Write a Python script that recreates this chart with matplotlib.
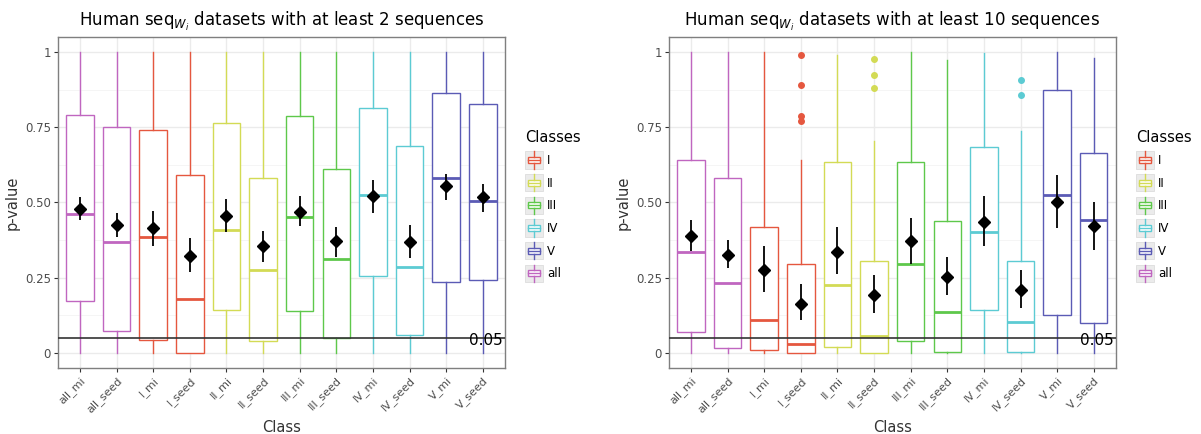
import numpy as np
import matplotlib
matplotlib.use("Agg")
import matplotlib.pyplot as plt
from matplotlib.legend_handler import HandlerBase
from matplotlib.patches import Rectangle
from matplotlib.lines import Line2D

# ---------------- data ----------------
categories = ["all_mi", "all_seed", "I_mi", "I_seed", "II_mi", "II_seed",
              "III_mi", "III_seed", "IV_mi", "IV_seed", "V_mi", "V_seed"]
cat_class = ["all", "all", "I", "I", "II", "II", "III", "III", "IV", "IV", "V", "V"]
classes = ["I", "II", "III", "IV", "V", "all"]
class_colors = {"I": "#E5573F", "II": "#D3DB55", "III": "#5EC84B",
                "IV": "#5CCBD3", "V": "#5B5BB5", "all": "#C066C0"}

# panel 1: at least 2 sequences
q1_a = [0.172, 0.074, 0.043, 0.000, 0.143, 0.039, 0.139, 0.051, 0.255, 0.059, 0.235, 0.243]
q3_a = [0.789, 0.751, 0.741, 0.590, 0.765, 0.580, 0.787, 0.611, 0.815, 0.688, 0.863, 0.826]
med_a = [0.462, 0.368, 0.384, 0.180, 0.410, 0.274, 0.451, 0.313, 0.525, 0.284, 0.581, 0.506]
wlo_a = [0.0] * 12
whi_a = [1.0] * 12
mean_a = [0.479, 0.424, 0.416, 0.323, 0.455, 0.354, 0.469, 0.373, 0.521, 0.370, 0.554, 0.517]
elo_a = [0.443, 0.385, 0.355, 0.270, 0.401, 0.302, 0.421, 0.320, 0.465, 0.315, 0.507, 0.468]
ehi_a = [0.518, 0.465, 0.472, 0.381, 0.510, 0.406, 0.521, 0.419, 0.575, 0.426, 0.594, 0.561]
out_a = [[] for _ in range(12)]

# panel 2: at least 10 sequences
q1_b = [0.069, 0.016, 0.010, 0.000, 0.019, 0.000, 0.039, 0.004, 0.144, 0.004, 0.127, 0.100]
q3_b = [0.640, 0.581, 0.420, 0.294, 0.634, 0.307, 0.635, 0.437, 0.684, 0.304, 0.873, 0.664]
med_b = [0.335, 0.232, 0.108, 0.029, 0.227, 0.055, 0.296, 0.137, 0.401, 0.104, 0.526, 0.442]
wlo_b = [0.0] * 12
whi_b = [1.0, 1.0, 1.0, 0.642, 0.989, 0.704, 1.0, 0.973, 0.998, 0.737, 1.0, 0.981]
mean_b = [0.388, 0.326, 0.276, 0.164, 0.337, 0.194, 0.373, 0.254, 0.435, 0.210, 0.500, 0.421]
elo_b = [0.340, 0.282, 0.202, 0.111, 0.261, 0.132, 0.296, 0.191, 0.357, 0.149, 0.415, 0.341]
ehi_b = [0.443, 0.376, 0.356, 0.229, 0.417, 0.259, 0.449, 0.319, 0.520, 0.277, 0.590, 0.502]
out_b = [[], [], [], [0.991, 0.890, 0.786, 0.771], [], [0.977, 0.925, 0.881],
         [], [], [], [0.906, 0.856], [], []]

threshold = 0.05
titles = [r"Human seq$_{W_i}$ datasets with at least 2 sequences",
          r"Human seq$_{W_i}$ datasets with at least 10 sequences"]


class BoxHandler(HandlerBase):
    # little boxplot glyph on grey key, like ggplot legends
    def create_artists(self, legend, orig_handle, xdescent, ydescent,
                       width, height, fontsize, trans):
        c = orig_handle.get_edgecolor()
        x0, y0 = -xdescent, -ydescent
        bg = Rectangle((x0, y0 - 1), width, height + 2,
                       facecolor="#EBEBEB", edgecolor="#DDDDDD", lw=0.6, transform=trans)
        cx = x0 + width / 2
        box = Rectangle((x0 + 2, y0 + 3), width - 4, height - 6,
                        facecolor="white", edgecolor=c, lw=1.0, transform=trans)
        mid = Line2D([x0 + 2, x0 + width - 2], [y0 + height / 2] * 2,
                     color=c, lw=1.0, transform=trans)
        w1 = Line2D([cx, cx], [y0 - 1, y0 + 3], color=c, lw=1.0, transform=trans)
        w2 = Line2D([cx, cx], [y0 + height - 3, y0 + height + 1],
                    color=c, lw=1.0, transform=trans)
        return [bg, box, mid, w1, w2]


def draw_panel(ax, q1, q3, med, wlo, whi, mean, elo, ehi, outs, title):
    x = np.arange(1, len(categories) + 1)
    ax.set_facecolor("white")
    ax.set_axisbelow(True)
    for i in range(len(categories)):
        s = {"med": med[i], "q1": q1[i], "q3": q3[i],
             "whislo": wlo[i], "whishi": whi[i], "fliers": outs[i]}
        c = class_colors[cat_class[i]]
        ax.bxp([s], positions=[x[i]], widths=0.75, patch_artist=True,
               showcaps=False,
               boxprops=dict(facecolor="white", edgecolor=c, lw=1.0),
               whiskerprops=dict(color=c, lw=1.0),
               medianprops=dict(color=c, lw=2.0),
               flierprops=dict(marker="o", markerfacecolor=c, markeredgecolor=c,
                               markersize=4),
               zorder=2)
    ax.vlines(x, elo, ehi, color="black", lw=1.3, zorder=4)
    ax.plot(x, mean, "D", color="black", markersize=6, zorder=5)
    ax.axhline(threshold, color="#333333", lw=1.2, zorder=3)
    ax.text(12.55, threshold - 0.01, "0.05", ha="right", va="center",
            fontsize=11, color="black", zorder=6)

    ax.set_xlim(0.4, 12.6)
    ax.set_ylim(-0.05, 1.05)
    ax.set_xticks(x)
    ax.set_xticklabels(categories, rotation=45, ha="right", rotation_mode="anchor",
                       fontsize=8, color="#4D4D4D")
    ax.set_yticks([0, 0.25, 0.5, 0.75, 1])
    ax.set_yticklabels(["0", "0.25", "0.50", "0.75", "1"], fontsize=8.5, color="#4D4D4D")
    ax.set_yticks([0.125, 0.375, 0.625, 0.875], minor=True)
    ax.grid(True, which="major", color="#EBEBEB", lw=1.0)
    ax.grid(True, which="minor", axis="y", color="#F4F4F4", lw=0.6)
    ax.tick_params(axis="both", which="major", length=3, color="#333333", pad=2)
    ax.tick_params(axis="y", which="minor", length=0)
    for sp in ax.spines.values():
        sp.set_color("#7F7F7F")
        sp.set_linewidth(1.0)
    ax.set_xlabel("Class", fontsize=10.5, color="#333333", labelpad=4)
    ax.set_ylabel("p-value", fontsize=10.5, color="#333333", labelpad=4)
    ax.set_title(title, fontsize=12, pad=8)

    handles = [Rectangle((0, 0), 1, 1, facecolor="white", edgecolor=class_colors[k])
               for k in classes]
    leg = ax.legend(handles, classes, title="Classes", loc="upper left",
                    bbox_to_anchor=(1.045, 0.72), frameon=False,
                    handler_map={Rectangle: BoxHandler()},
                    handlelength=1.5, handleheight=1.5, handletextpad=0.4,
                    labelspacing=0.7, borderaxespad=0, borderpad=0, fontsize=8.5,
                    title_fontsize=10.5, alignment="left")
    return leg


fig = plt.figure(figsize=(12.01, 4.34), dpi=100)
ax1 = fig.add_axes([0.0483, 0.152, 0.372, 0.763])
ax2 = fig.add_axes([0.557, 0.152, 0.372, 0.763])

draw_panel(ax1, q1_a, q3_a, med_a, wlo_a, whi_a, mean_a, elo_a, ehi_a, out_a, titles[0])
draw_panel(ax2, q1_b, q3_b, med_b, wlo_b, whi_b, mean_b, elo_b, ehi_b, out_b, titles[1])

fig.savefig("out.png", dpi=100)
